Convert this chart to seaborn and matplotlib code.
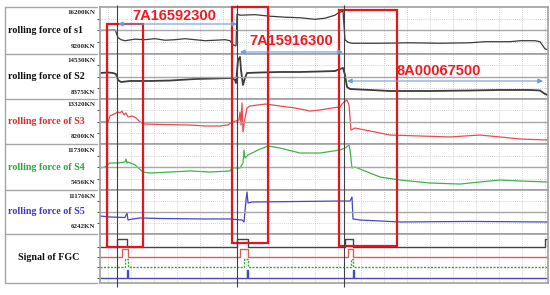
import matplotlib

matplotlib.use("Agg")
import matplotlib.pyplot as plt
import pandas as pd
import seaborn as sns
from matplotlib.patches import Rectangle

# time axis (screen samples), shared by every channel
T_MAX = 448

s1_t = [0, 15, 16, 18, 21, 25, 35, 45, 55, 65, 75, 85, 95, 105, 115, 125, 130, 133, 136, 137, 140, 155,
        170, 185, 200, 215, 225, 235, 238, 243, 245, 248, 252, 280, 310, 340, 370, 385, 410, 420, 435,
        440, 445, 448]
s1_kn = [12700, 12780, 12470, 11630, 11330, 11180, 11410, 11330, 11480, 11250, 11330, 11480, 11330,
         11180, 11250, 11330, 11180, 10570, 10420, 15140, 14980, 15060, 14830, 14680, 14600, 14370,
         14530, 14980, 15290, 15590, 11330, 10950, 10800, 10800, 10870, 10800, 10870, 11030, 11030,
         11180, 11180, 11030, 9960, 9810]

s2_t = [0, 8, 13, 16, 18, 21, 30, 50, 70, 95, 115, 132, 135, 136, 138, 140, 141, 143, 145, 147, 160,
        180, 200, 220, 235, 240, 243, 245, 247, 250, 270, 290, 330, 370, 400, 430, 440, 445, 448]
s2_kn = [11930, 12000, 11930, 11790, 10970, 10700, 10840, 10840, 10900, 11110, 11180, 11250, 10970,
         10560, 13710, 14120, 12340, 10290, 11250, 11930, 12000, 12070, 12070, 12140, 12200, 12480,
         12620, 11660, 10020, 9740, 9610, 9470, 9470, 9540, 9610, 9610, 9540, 9060, 8920]

s3_t = [0, 8, 10, 14, 18, 20, 22, 24, 26, 28, 32, 36, 39, 43, 60, 90, 105, 120, 128, 132, 136, 139,
        140, 141, 142, 143, 145, 147, 150, 158, 166, 180, 195, 210, 220, 232, 240, 243, 247, 249, 251,
        255, 270, 290, 320, 350, 380, 400, 420, 448]
s3_kn = [10700, 10700, 11390, 11610, 11840, 11730, 11950, 11500, 11730, 11270, 11390, 11160, 10820,
         10480, 10420, 10360, 10250, 10250, 10360, 10700, 10820, 10930, 11840, 10360, 12870, 9570,
         11160, 12300, 12520, 12640, 12750, 12520, 12300, 11950, 12070, 12300, 12410, 12870, 13210,
         12640, 9790, 10020, 9680, 9220, 9110, 9000, 9220, 9000, 8770, 8650]

s4_t = [0, 5, 10, 18, 25, 26, 27, 28, 35, 43, 50, 70, 90, 110, 130, 132, 140, 143, 144, 145, 148, 158,
        168, 180, 200, 220, 240, 245, 249, 250, 252, 255, 280, 300, 330, 360, 380, 400, 420, 448]
s4_kn = [8460, 8590, 9140, 9140, 9280, 9680, 9140, 9280, 8870, 7910, 7770, 7910, 8050, 7910, 8050,
         8460, 8460, 9140, 10910, 9820, 10230, 10910, 11460, 11180, 10500, 10500, 10910, 11180, 11590,
         10910, 8460, 8590, 7230, 6820, 6410, 6270, 6550, 6820, 6680, 6550]

s5_t = [0, 10, 25, 27, 28, 30, 40, 60, 100, 130, 142, 144, 146, 147, 148, 152, 200, 240, 250, 252,
        253, 260, 280, 300, 370, 448]
s5_kn = [8260, 8150, 8090, 8600, 7810, 7870, 8040, 7980, 7930, 7930, 7810, 7590, 10060, 10950, 9720,
         9830, 9890, 9940, 9940, 10390, 7930, 7810, 7700, 7590, 7650, 7590]

# FGC digital signals (step, post)
fgc_black_t = [0, 17, 27, 137, 148, 245, 253, 445, 448]
fgc_black = [0, 1, 0, 1, 0, 1, 0, 1, 1]
fgc_red_t = [0, 22, 28, 140, 148, 248, 253, 448]
fgc_red = [0, 1, 0, 1, 0, 1, 0, 0]
fgc_green_t = [0, 25, 28, 144, 148, 251, 253, 448]
fgc_green = [0, 1, 0, 1, 0, 1, 0, 0]
fgc_blue_t = [0, 27, 28, 147, 148, 253, 254, 448]
fgc_blue = [0, 1, 0, 1, 0, 1, 0, 0]

channels = ["rolling force of s1", "rolling force of S2", "rolling force of S3",
            "rolling force of S4", "rolling force of S5"]
range_hi = [16200, 14530, 13320, 11730, 11176]
range_lo = [9200, 8375, 8200, 5456, 6242]

coils = ["7A16592300", "7A15916300", "8A00067500"]
coil_start = [18, 140, 247]
coil_end = [137, 243, 443]
coil_label_t = [74, 191, 339]
cursor_t = [17, 137, 244]
box_t0 = [7, 132, 239]
box_t1 = [43, 168, 297]

W, H = 550, 295
edges = [7, 54, 99, 144, 190, 234, 283]
trace_colors = ["#3c3c3c", "#3c3c3c", "#ea4a4f", "#3db54a", "#4646cc"]
label_colors = ["#111111", "#111111", "#e02a30", "#2ea83a", "#3c3cc0"]
grid_t = list(range(8, T_MAX, 23))

sns.set_style("white")
plt.rcParams["font.family"] = ["Liberation Serif", "DejaVu Serif"]

fig = plt.figure(figsize=(W / 100, H / 100), dpi=100, facecolor="white")

# left label table
ax_lab = fig.add_axes([0, 0, 1, 1])
ax_lab.set_xlim(0, W)
ax_lab.set_ylim(H, 0)
ax_lab.axis("off")
for y in edges:
    ax_lab.plot([5, 97], [y, y], color="#a6a6a6", lw=1.0)
ax_lab.plot([5, 5], [edges[0], edges[-1]], color="#a6a6a6", lw=1.0)


def panel_axes(top, bot):
    return fig.add_axes([100 / W, 1 - bot / H, 448 / W, (bot - top) / H])


def style_panel(ax):
    ax.set_xlim(0, T_MAX)
    ax.set_xticks(grid_t)
    ax.set_xticklabels([])
    ax.grid(axis="x", color="#c4c4c4", lw=0.6, ls=(0, (1, 1.5)))
    ax.set_xlabel("")
    ax.set_ylabel("")
    ax.tick_params(axis="x", length=0)
    ax.tick_params(axis="y", length=2.5, width=0.6, color="#333333", labelleft=False, left=True)
    for sp in ax.spines.values():
        sp.set_color("#a0a0a0")
        sp.set_linewidth(1.2)


series = [(s1_t, s1_kn), (s2_t, s2_kn), (s3_t, s3_kn), (s4_t, s4_kn), (s5_t, s5_kn)]
for i, (t, kn) in enumerate(series):
    top, bot = edges[i], edges[i + 1]
    ax = panel_axes(top, bot)
    lo, hi = range_lo[i], range_hi[i]
    df = pd.DataFrame({"t": t, "kn": kn})
    sns.lineplot(data=df, x="t", y="kn", ax=ax, estimator=None, sort=False,
                 color=trace_colors[i], lw=1.3 if i == 1 else 0.9)
    ax.set_ylim(lo, hi)
    span = hi - lo
    ax.set_yticks([lo + span * f for f in (0.25, 0.5, 0.75)])
    ax.grid(axis="y", color="#c4c4c4", lw=0.6, ls=(0, (1, 1.5)))
    ax.axhline(lo + span / 2, color="#a8a8a8", lw=1.0)
    style_panel(ax)

    mid = (top + bot) / 2
    ax_lab.text(46, mid, channels[i], ha="center", va="center", fontsize=7.2,
                fontweight="bold", color=label_colors[i])
    ax_lab.text(95, top + 6, f"{hi}KN", ha="right", va="center", fontsize=5, fontweight="bold",
                color="#222222")
    ax_lab.text(95, bot - 7, f"{lo}KN", ha="right", va="center", fontsize=5, fontweight="bold",
                color="#222222")

# FGC panel
ax_f = panel_axes(edges[5], edges[6])
fgc = [(fgc_black_t, fgc_black, 3.6, "#444444", "-"),
       (fgc_red_t, fgc_red, 2.6, "#d46060", "-"),
       (fgc_green_t, fgc_green, 1.6, "#3aa53a", (0, (1.5, 1))),
       (fgc_blue_t, fgc_blue, 0.5, "#4848c8", "-")]
for t, state, base, col, ls in fgc:
    df = pd.DataFrame({"t": t, "level": [base + 0.8 * s for s in state]})
    sns.lineplot(data=df, x="t", y="level", ax=ax_f, estimator=None, sort=False,
                 color=col, lw=1.0, drawstyle="steps-post", linestyle=ls)
ax_f.set_ylim(0, 4.9)
ax_f.set_yticks([0.5, 1.6, 2.6, 3.6])
style_panel(ax_f)
ax_lab.text(49, 257, "Signal of FGC", ha="center", va="center", fontsize=7.2,
            fontweight="bold", color="#111111")

# annotation overlay on the plot area
ax_ov = fig.add_axes([100 / W, 0, 448 / W, 1], zorder=10)
ax_ov.set_xlim(0, T_MAX)
ax_ov.set_ylim(H, 0)
ax_ov.axis("off")
ax_ov.patch.set_alpha(0)
ax_ov.vlines(cursor_t, 5, 287, color="#404040", lw=0.8)

box_top = [24, 7, 10]
box_bot = [247, 243, 246]
for x0, x1, y0, y1 in zip(box_t0, box_t1, box_top, box_bot):
    ax_ov.add_patch(Rectangle((x0, y0), x1 - x0, y1 - y0, fill=False, ec="#e8141c", lw=1.6))

arrow_y = [24, 52, 81]
label_y = [16, 41, 71]
for name, a, b, lx, ay, ly in zip(coils, coil_start, coil_end, coil_label_t, arrow_y, label_y):
    ax_ov.annotate("", xy=(b, ay), xytext=(a, ay),
                   arrowprops=dict(arrowstyle="<|-|>", color="#6a9fd8", lw=0.8,
                                   mutation_scale=7, shrinkA=0, shrinkB=0))
    ax_ov.text(lx, ly, name, ha="center", va="center", fontsize=10.5, fontweight="bold",
               color="#f01a22", family="Liberation Sans")

fig.savefig("out.png", dpi=100, facecolor="white")
plt.close(fig)
